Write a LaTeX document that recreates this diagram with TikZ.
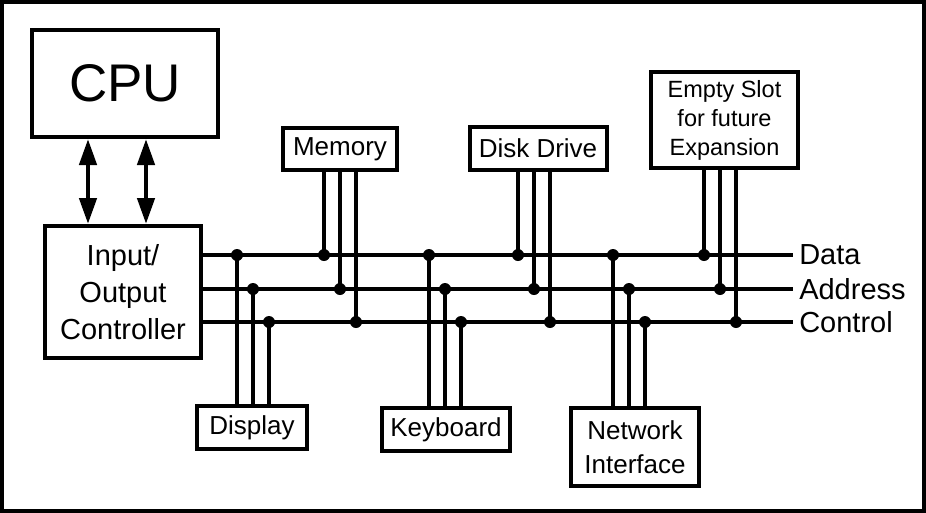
\documentclass[tikz,border=0pt]{standalone}
\usepackage{fontspec}
\setmainfont{Liberation Sans}
\usetikzlibrary{arrows.meta}
\tikzset{
    box/.style={draw, line width=4pt, fill=white, inner sep=0pt,
        align=center, font=\fontsize{26}{34}\selectfont},
    wire/.style={line width=4.5pt},
    link/.style={line width=4.5pt,
        {Triangle[length=26pt, width=17pt]}-{Triangle[length=26pt, width=17pt]}},
    buslabel/.style={right, inner sep=4pt, font=\fontsize{29}{34}\selectfont},
}

\begin{document}
\begin{tikzpicture}[x=1pt, y=-1pt]
    \useasboundingbox (0, 0) rectangle (926, 512);
    \draw[line width=4pt] (2, 2) rectangle (924, 510.5); % Frame
    \node[box, minimum width=186pt, minimum height=107pt,
        font=\fontsize{53}{60}\selectfont] (cpu) at (125, 83.5) {CPU};
    \node[box, minimum width=156pt, minimum height=132pt,
        font=\fontsize{29}{37}\selectfont] (io) at (123, 292)
        {Input/\\Output\\Controller};
    \node[box, minimum width=114pt, minimum height=42pt] (mem) at (340, 149)
        {Memory};
    \node[box, minimum width=137pt, minimum height=43pt] (disk)
        at (538, 148.5) {Disk Drive};
    \node[box, minimum width=147pt, minimum height=96pt,
        font=\fontsize{23.5}{29}\selectfont] (slot) at (724.5, 120)
        {Empty Slot\\for future\\Expansion};
    \node[box, minimum width=110pt, minimum height=43pt] (disp)
        at (252, 427.5) {Display};
    \node[box, minimum width=128pt, minimum height=43pt] (kbd)
        at (446, 429.5) {Keyboard};
    \node[box, minimum width=128pt, minimum height=78pt] (net) at (635, 447)
        {Network\\Interface};
    \foreach \x in {88, 146}{
        \draw[link] (\x,0 |- cpu.south) -- (\x,0 |- io.north); % CPU link
    }
    \foreach \bus/\y/\name in {dat/255/Data, adr/289/Address, ctl/322/Control}{
        \coordinate (\bus) at (793, \y);
        \draw[wire] (io.east |- \bus) -- (\bus) node[buslabel] {\name}; % Bus
    }
    \foreach \dev/\x in {mem/324, disk/518, slot/704}{
        \foreach \bus/\y [count=\i from 0] in {dat/255, adr/289, ctl/322}{
            \pgfmathsetmacro{\tx}{\x+16*\i}
            \coordinate (\dev-\bus) at (\tx, \y);
            \draw[wire] (\dev-\bus |- \dev.south) -- (\dev-\bus); % Upper tap
            \fill (\dev-\bus) circle (6pt);
        }
    }
    \foreach \dev/\x in {disp/237, kbd/429, net/613}{
        \foreach \bus/\y [count=\i from 0] in {dat/255, adr/289, ctl/322}{
            \pgfmathsetmacro{\tx}{\x+16*\i}
            \coordinate (\dev-\bus) at (\tx, \y);
            \draw[wire] (\dev-\bus) -- (\dev-\bus |- \dev.north); % Lower tap
            \fill (\dev-\bus) circle (6pt);
        }
    }
\end{tikzpicture}
\end{document}
